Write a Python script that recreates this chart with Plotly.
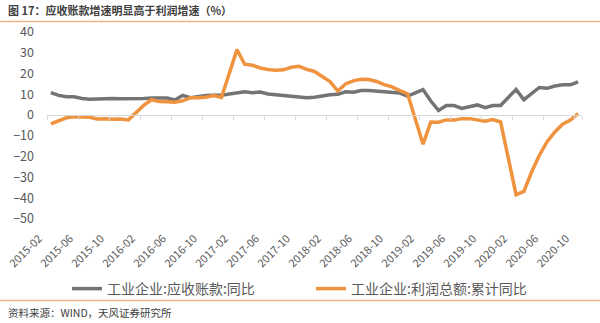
import pandas as pd
import plotly.graph_objects as go

months = list(pd.period_range("2015-02", "2020-10", freq="M").strftime("%Y-%m"))
tick_labels = months[::4]

receivables_yoy = [
    10.8, 9.5, 8.8, 8.8, 8.0, 7.6, 7.7, 8.0, 8.0, 7.9, 7.8, 8.0,
    8.0, 8.2, 8.4, 8.2, 7.3, 9.5, 8.4, 9.0, 9.4, 9.5, 9.6, 10.2,
    10.8, 11.2, 10.8, 11.1, 10.2, 9.8, 9.5, 9.0, 8.8, 8.4, 8.6, 9.3,
    9.8, 10.0, 11.2, 11.0, 11.8, 11.8, 11.6, 11.2, 11.2, 10.6, 9.2, 10.8,
    12.3, 6.8, 2.2, 4.6, 4.6, 3.2, 4.2, 4.9, 3.6, 4.6, 4.6, 8.6,
    12.4, 7.4, 10.3, 13.3, 12.9, 14.0, 14.6, 14.6, 16.0,
]
profit_cum_yoy = [
    -4.2, -2.7, -1.3, -0.8, -0.7, -1.0, -1.9, -1.7, -2.0, -1.9, -2.3, None,
    4.8, 7.4, 6.5, 6.4, 6.2, 6.9, 8.4, 8.4, 8.6, 9.4, 8.5, None,
    31.5, 24.5, 24.0, 22.7, 22.0, 21.6, 21.8, 23.0, 23.5, 22.0, 21.0, None,
    16.1, 11.6, 15.0, 16.5, 17.2, 17.1, 16.2, 14.7, 13.6, 11.8, 10.3, None,
    -14.0, -3.3, -3.4, -2.3, -2.4, -1.7, -1.7, -2.1, -2.9, -2.1, -3.3, None,
    -38.3, -36.7, -27.4, -19.3, -12.8, -8.1, -4.4, -2.4, 0.7,
]
series_names = ["工业企业:应收账款:同比", "工业企业:利润总额:累计同比"]
title_text = "图 17：应收账款增速明显高于利润增速（%）"
source_text = "资料来源：WIND，天风证券研究所"

GRAY = "#747474"
ORANGE = "#F0933E"
TXT = "#595959"
FONT = "Noto Sans CJK SC"

W, H = 600, 323
ML, MR, MT, MB = 47, 18, 32, 104
PW, PH = W - ML - MR, H - MT - MB

def px_x(x):
    return (x - ML) / PW

def px_y(y):
    return 1 - (y - MT) / PH

fig = go.Figure()
fig.add_trace(go.Scatter(x=months, y=receivables_yoy, mode="lines", name=series_names[0],
                         line=dict(color=GRAY, width=3.5), connectgaps=True, hoverinfo="skip"))
fig.add_trace(go.Scatter(x=months, y=profit_cum_yoy, mode="lines", name=series_names[1],
                         line=dict(color=ORANGE, width=3.5), connectgaps=True, hoverinfo="skip"))
# helper trace so the zero-crossing axis gets the categories
fig.add_trace(go.Scatter(x=months, y=[None] * len(months), xaxis="x2", mode="lines",
                         showlegend=False, hoverinfo="skip"))

ymin, ymax = -50, 40
fig.update_layout(
    width=W, height=H,
    margin=dict(l=ML, r=MR, t=MT, b=MB, autoexpand=False),
    paper_bgcolor="white", plot_bgcolor="white",
    font=dict(family=FONT, color=TXT),
    showlegend=True,
    legend=dict(orientation="h", x=px_x(67), xanchor="left", y=px_y(289), yanchor="middle",
                font=dict(size=14, color=TXT, family=FONT), entrywidth=199,
                bgcolor="rgba(0,0,0,0)", itemwidth=30),
    xaxis=dict(type="category", categoryorder="array", categoryarray=months,
               range=[-0.5, len(months) - 0.5],
               tickmode="array", tickvals=tick_labels, ticktext=tick_labels,
               tickangle=-45, tickfont=dict(size=11, color=TXT),
               showgrid=False, showline=False, ticks="", zeroline=False,
               ticklabelstandoff=10, ticklabelshift=-12),
    xaxis2=dict(type="category", categoryorder="array", categoryarray=months,
                overlaying="x", matches="x", anchor="free",
                position=(0 - ymin) / (ymax - ymin),
                tickmode="array", tickvals=tick_labels, tickson="boundaries",
                ticks="outside", ticklen=4, tickcolor="#D9D9D9", tickwidth=1,
                showticklabels=False, showline=True, linecolor="#D9D9D9", linewidth=1,
                showgrid=False, zeroline=False),
    yaxis=dict(range=[ymin, ymax], tickmode="linear", tick0=-50, dtick=10,
               showgrid=False, zeroline=False, showline=False, ticks="",
               tickfont=dict(size=12.5, color=TXT), ticklabelstandoff=12),
)

fig.add_shape(type="line", xref="paper", yref="paper", x0=px_x(0), x1=px_x(W),
              y0=px_y(21.5), y1=px_y(21.5), line=dict(color="#F4B183", width=1.5))
fig.add_shape(type="line", xref="paper", yref="paper", x0=px_x(0), x1=px_x(W),
              y0=px_y(300.5), y1=px_y(300.5), line=dict(color="#F4B183", width=1.5))
fig.add_annotation(text="<b>" + title_text + "</b>", xref="paper", yref="paper",
                   x=px_x(6), y=px_y(10), xanchor="left", yanchor="middle", showarrow=False,
                   font=dict(size=11, color="#404040", family=FONT))
fig.add_annotation(text=source_text, xref="paper", yref="paper",
                   x=px_x(6), y=px_y(312), xanchor="left", yanchor="middle", showarrow=False,
                   font=dict(size=10.5, color="#404040", family=FONT))

fig.write_html("out.html")
